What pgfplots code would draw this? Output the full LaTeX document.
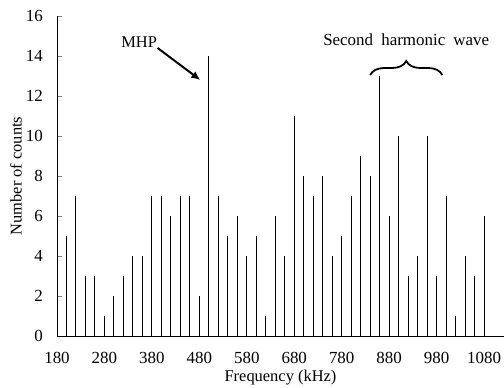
\documentclass[border=0pt]{standalone}
\usepackage{pgfplots}
\pgfplotsset{compat=1.18}
\usepackage{fontspec}
\setmainfont{Liberation Serif}
\usetikzlibrary{decorations.pathreplacing,arrows.meta}
\begin{document}
\begin{tikzpicture}
\useasboundingbox (-57bp,-52bp) rectangle (447bp,336bp);
\begin{axis}[
  at={(0,0)}, anchor=south west,
  scale only axis, width=447bp, height=320bp,
  xmin=180, xmax=1122, ymin=0, ymax=16,
  axis x line=bottom, axis y line=left,
  axis line style={-, line width=0.8pt},
  xtick={180,280,...,1080}, ytick={0,2,...,16},
  tick align=inside,
  x tick style={draw=none},
  y tick style={line width=0.8pt},
  major tick length=5bp,
  ticklabel style={font=\fontsize{17}{19}\selectfont, inner sep=0pt},
  xticklabel style={yshift=-16bp},
  yticklabel style={xshift=-14bp},
  label style={font=\fontsize{16.5}{19}\selectfont},
  /pgf/number format/assume math mode=true,
  /pgf/number format/1000 sep={},
  xlabel={Frequency (kHz)}, ylabel={Number of counts},
  xlabel style={at={(axis description cs:0.5,0)}, anchor=center, yshift=-42bp},
  ylabel style={at={([xshift=-41bp]axis description cs:0,0.5)}, anchor=center},
  clip=false,
]
\addplot[ycomb, black, line width=1pt, mark=none] coordinates {
(200,5) (220,7) (240,3) (260,3) (280,1) (300,2) (320,3) (340,4) (360,4)
(380,7) (400,7) (420,6) (440,7) (460,7) (480,2) (500,14) (520,7) (540,5)
(560,6) (580,4) (600,5) (620,1) (640,6) (660,4) (680,11) (700,8) (720,7)
(740,8) (760,4) (780,5) (800,7) (820,9) (840,8) (860,13) (880,6) (900,10)
(920,3) (940,4) (960,10) (980,3) (1000,7) (1020,1) (1040,4) (1060,3) (1080,6)
};
\node[font=\fontsize{16.5}{19}\selectfont] at (axis cs:353,14.7) {MHP};
\draw[-{Latex[length=9bp,width=8bp]}, line width=2pt] (axis cs:392,14.4) -- (axis cs:482,12.8);
\node[font=\fontsize{17}{19}\selectfont, text width=180bp, align=center] at (axis cs:916,14.8) {Second\hspace{0.15em} harmonic\hspace{0.15em} wave};
\draw[decorate, decoration={brace, amplitude=14bp, aspect=0.5}, line width=1.8pt] (axis cs:840,13.05) -- (axis cs:992,13.05);
\end{axis}
\end{tikzpicture}
\end{document}
